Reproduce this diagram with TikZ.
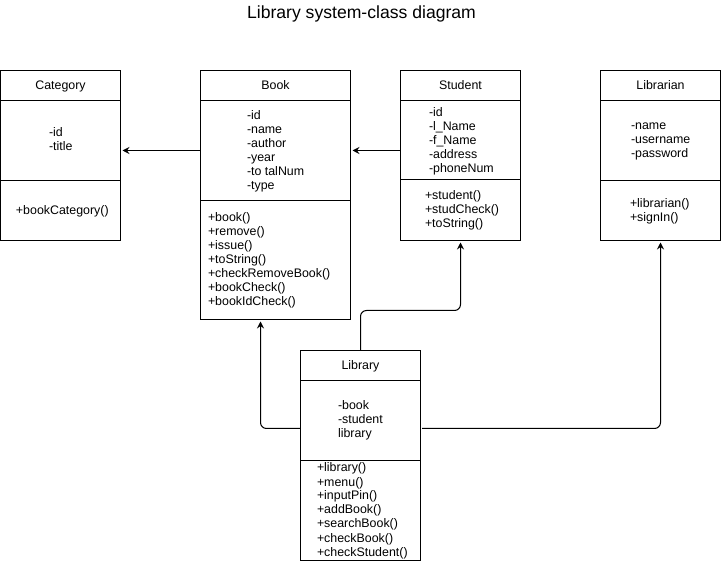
\documentclass[tikz,border=0pt]{standalone}
\usepackage{fontspec}
\setmainfont{Liberation Sans}
\usetikzlibrary{arrows.meta}
\tikzset{
  box/.style={draw, line width=1pt, inner sep=0pt, outer sep=0pt, anchor=north west, text height=8.6pt, text depth=0pt, font=\fontsize{12.4}{14}\selectfont},
  txt/.style={inner sep=0pt, outer sep=0pt, anchor=base west, font=\fontsize{12.4}{14}\selectfont},
  arr/.style={draw, line width=1pt, -{Stealth[length=7pt,width=7pt,inset=2.5pt]}, rounded corners=6pt, shorten >=2pt},
  titlestyle/.style={inner sep=0pt, anchor=base, font=\fontsize{17.6}{20}\selectfont}
}
\newcommand\umlbox[7]{%
  \node[box, minimum width=#4pt, minimum height=30pt] (#1H) at (#2,#3) {#5};
  \node[box, minimum width=#4pt, minimum height=#6pt] (#1A) at (#1H.south west) {};
  \node[box, minimum width=#4pt, minimum height=#7pt] (#1M) at (#1A.south west) {};
}
\newcommand\umllines[4]{%
  \foreach \t [count=\i from 0] in {#4} {\node[txt] (#1\i) at (#2,#3+\i*14) {\t};}
}
\begin{document}
\begin{tikzpicture}[x=1pt,y=-1pt]
\useasboundingbox (0,0) rectangle (721,561);
\node[titlestyle] (title) at (361.5,19) {Library system-class diagram};
% classes
\umlbox{cat}{0.5}{70.5}{120}{Category}{80}{60}
\umlbox{book}{200.5}{70.5}{150}{Book}{100}{119}
\umlbox{stu}{400.5}{70.5}{120}{Student}{79}{61}
\umlbox{lbn}{600.5}{70.5}{120}{Librarian}{80}{60}
\umlbox{lib}{300.5}{350.5}{120}{Library}{80}{100}
% texts
\umllines{catAt}{49}{137}{-id,-title}
\umllines{catMt}{16}{215}{+bookCategory()}
\umllines{bookAt}{247}{120}{-id,-name,-author,-year,-to talNum,-type}
\umllines{bookMt}{208}{222}{+book(),+remove(),+issue(),+toString(),+checkRemoveBook(),+bookCheck(),+bookIdCheck()}
\umllines{stuAt}{429}{117}{-id,-l\_Name,-f\_Name,-address,-phoneNum}
\umllines{stuMt}{425}{200}{+student(),+studCheck(),+toString()}
\umllines{lbnAt}{631}{130}{-name,-username,-password}
\umllines{lbnMt}{630}{207.5}{+librarian(),+signIn()}
\umllines{libAt}{338}{410}{-book,-student,library}
\umllines{libMt}{317}{472}{+library(),+menu(),+inputPin(),+addBook(),+searchBook(),+checkBook(),+checkStudent()}
% connectors
\draw[arr] (bookA.west) -- (bookA.west -| catA.east);
\draw[arr] (stuA.west |- bookA.east) -- (bookA.east);
\draw[arr] ([yshift=-8pt]libA.west) -| ([xshift=-15pt]bookM.south);
\draw[arr] (libH.north) -- ++(0,-40) -| (stuM.south);
\draw[arr, shorten <=1.5pt] ([yshift=-8pt]libA.east) -| (lbnM.south);
\end{tikzpicture}
\end{document}
